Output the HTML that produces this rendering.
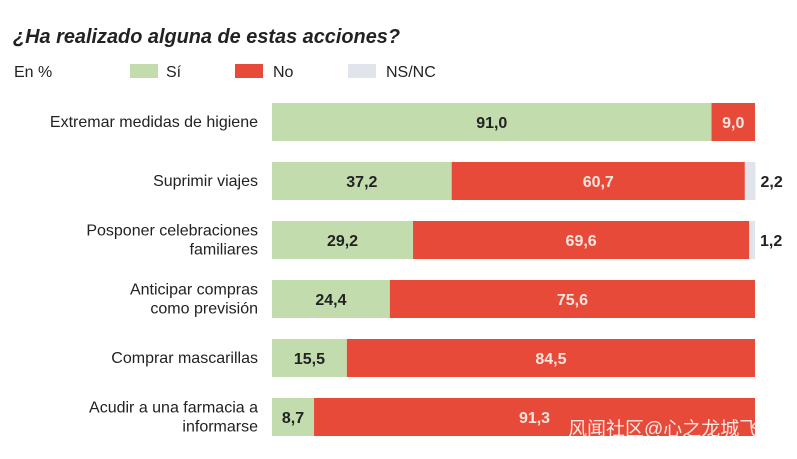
<!DOCTYPE html>
<html><head><meta charset="utf-8"><style>
body{margin:0;background:#fff;width:797px;height:454px;overflow:hidden;font-family:"Liberation Sans","Noto Sans CJK SC",sans-serif;}
svg text{font-family:"Liberation Sans","Noto Sans CJK SC",sans-serif;}
</style></head><body>
<svg id="chart" width="797" height="454">
<defs><clipPath id="wm"><rect x="560" y="400" width="197" height="50"/></clipPath></defs>
<text x="13" y="43" font-size="20" font-weight="bold" font-style="italic" fill="#222" textLength="387" lengthAdjust="spacingAndGlyphs">¿Ha realizado alguna de estas acciones?</text>
<text x="14" y="77" font-size="16" fill="#222">En %</text>
<g>
<rect x="130" y="64" width="28" height="14" fill="#c2dcae"/>
<text x="166" y="77" font-size="16" fill="#222">Sí</text>
<rect x="235" y="64" width="28" height="14" fill="#e84a39"/>
<text x="273" y="77" font-size="16" fill="#222">No</text>
<rect x="348" y="64" width="28" height="14" fill="#e1e4ea"/>
<text x="386" y="77" font-size="16" fill="#222">NS/NC</text>
</g>
<g id="bars"></g>
<text x="568" y="435" font-size="19" fill="#fff" fill-opacity="0.85" clip-path="url(#wm)">风闻社区@心之龙城飞将</text>
</svg>
<script>
const categories=[["Extremar medidas de higiene"],["Suprimir viajes"],["Posponer celebraciones","familiares"],["Anticipar compras","como previsión"],["Comprar mascarillas"],["Acudir a una farmacia a","informarse"]];
const siValues=[91.0,37.2,29.2,24.4,15.5,8.7];
const noValues=[9.0,60.7,69.6,75.6,84.5,91.3];
const nsValues=[0,2.2,1.2,0,0,0];
const x0=272,W=483,top0=103,step=59,bh=38;
const xs=v=>v/100*W;
const fmt=v=>v.toFixed(1).replace('.',',');
const NS="http://www.w3.org/2000/svg";
const g=document.getElementById('bars');
function mk(t,a){const e=document.createElementNS(NS,t);for(const k in a)e.setAttribute(k,a[k]);return e;}
categories.forEach((c,i)=>{
  const y=top0+i*step;
  const lab=mk('text',{x:258,'text-anchor':'end','font-size':16,fill:'#222'});
  
  
  c.forEach((l,j)=>{const ts=mk('tspan',{x:258,y:y+bh/2+5+(c.length>1?(j-0.5)*19:0)});ts.textContent=l;lab.appendChild(ts);});
  g.appendChild(lab);
  const segs=[[siValues[i],'#c2dcae','#222','bar-si'],[noValues[i],'#e84a39','#f5e6e0','bar-no'],[nsValues[i],'#e1e4ea','#222','bar-nsnc']];
  let x=x0;
  segs.forEach(([v,col,tc,nm],k)=>{
    if(v<=0)return;
    const w=xs(v);
    const r=mk('rect',{x:x,y:y,width:w,height:bh,fill:col});
    
    
    g.appendChild(r);
    const t=mk('text',{'font-size':16,'font-weight':'bold',fill:tc,y:y+bh/2+6});
    
    
    if(k===2){t.setAttribute('x',x+w+5);}else{t.setAttribute('x',x+w/2);t.setAttribute('text-anchor','middle');}
    t.textContent=fmt(v);
    g.appendChild(t);
    x+=w;
  });
});
</script>
</body></html>
